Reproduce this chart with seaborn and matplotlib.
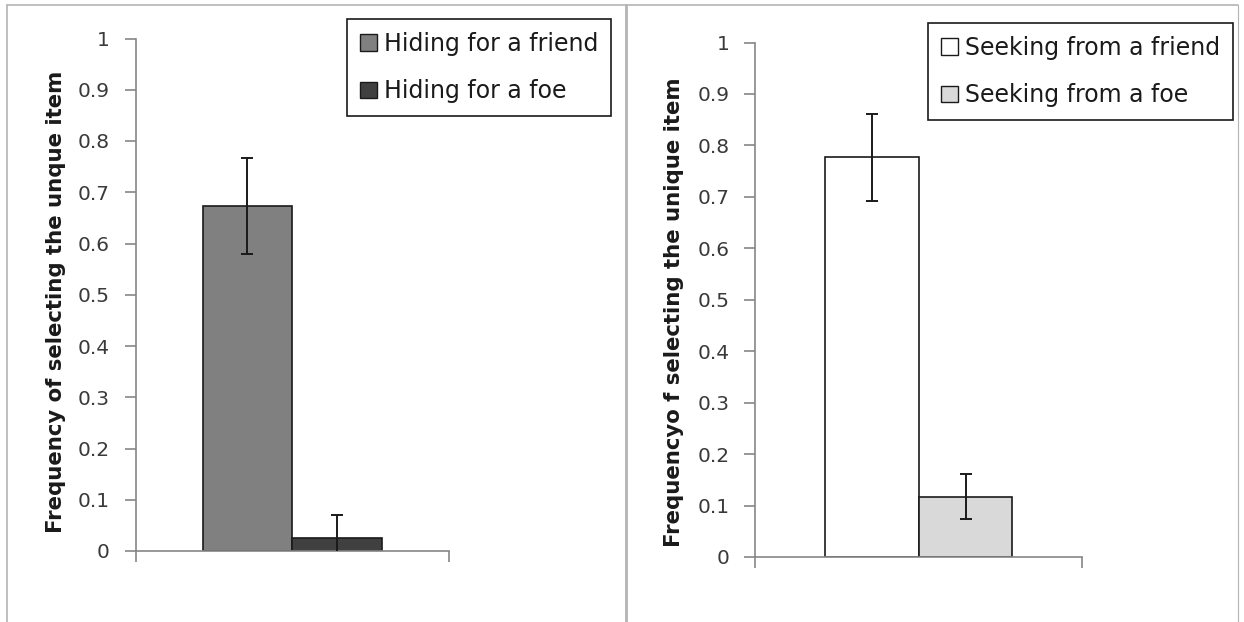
import matplotlib
matplotlib.use("Agg")
import matplotlib.pyplot as plt
from matplotlib.patches import Patch
from matplotlib.lines import Line2D
import seaborn as sns
import pandas as pd
import numpy as np

# Hiding condition
hide_labels = ["Hiding for a friend", "Hiding for a foe"]
hide_means = [0.673, 0.025]
hide_errs = [0.093, 0.046]
hide_colors = ["#808080", "#404040"]

# Seeking condition
seek_labels = ["Seeking from a friend", "Seeking from a foe"]
seek_means = [0.777, 0.117]
seek_errs = [0.085, 0.044]
seek_colors = ["#ffffff", "#d9d9d9"]

yticks = [0, 0.1, 0.2, 0.3, 0.4, 0.5, 0.6, 0.7, 0.8, 0.9, 1]
ytick_labels = ["0", "0.1", "0.2", "0.3", "0.4", "0.5", "0.6", "0.7", "0.8", "0.9", "1"]
ylabel_left = "Frequency of selecting the unque item"
ylabel_right = "Frequencyo f selecting the unique item"

sns.set_theme(style="white")
plt.rcParams["font.family"] = ["DejaVu Sans"]

W, H = 1244, 622
fig = plt.figure(figsize=(W / 100, H / 100), dpi=100)
fig.patch.set_facecolor("white")

AXIS_GREY = "#868686"
TEXT_GREY = "#3a3a3a"
INK = "#1a1a1a"


def px_axes(x0, x1, y_top, y_bot):
    return fig.add_axes([x0 / W, 1 - y_bot / H, (x1 - x0) / W, (y_bot - y_top) / H])


def draw_panel(ax, labels, means, errs, colors, ylabel, label_xy, legend_box):
    df = pd.DataFrame({"cond": labels, "value": means})
    sns.barplot(data=df, x="cond", y="value", hue="cond", order=labels,
                hue_order=labels, palette=colors, width=1.0, dodge=False,
                edgecolor=INK, linewidth=1.2, legend=False, ax=ax)
    ax.errorbar(np.arange(len(labels)), means, yerr=errs, fmt="none",
                ecolor=INK, elinewidth=1.4, capsize=4.5, capthick=1.4,
                clip_on=True, zorder=5)
    ax.set_xlim(-1.25, 2.25)
    ax.set_ylim(0, 1)
    ax.set_yticks(yticks)
    ax.set_yticklabels(ytick_labels, fontsize=14.5, color=TEXT_GREY)
    ax.set_xticks([-1.25, 2.25])
    ax.set_xticklabels([])
    ax.set_xlabel("")
    ax.set_ylabel(ylabel, fontsize=15.3, fontweight="bold", color=INK)
    ax.yaxis.label.set_verticalalignment("center")
    ax.yaxis.set_label_coords(*label_xy)
    for side in ["top", "right"]:
        ax.spines[side].set_visible(False)
    for side in ["left", "bottom"]:
        ax.spines[side].set_color(AXIS_GREY)
        ax.spines[side].set_linewidth(1.2)
    ax.tick_params(axis="y", direction="out", length=8, width=1.2,
                   color=AXIS_GREY, left=True, pad=10.5)
    ax.tick_params(axis="x", direction="out", length=8, width=1.2,
                   color=AXIS_GREY, bottom=True)
    ax.set_facecolor("white")

    handles = [Patch(facecolor=c, edgecolor=INK, linewidth=1.0)
               for c in colors]
    x_right, y_top = legend_box
    leg = fig.legend(handles, labels, loc="upper right",
                     bbox_to_anchor=(x_right / W, 1 - y_top / H),
                     fontsize=17, frameon=True, fancybox=False,
                     edgecolor=INK, framealpha=1,
                     handlelength=0.72, handleheight=0.72, handletextpad=0.27,
                     labelspacing=1.0, borderpad=0.55, borderaxespad=0)
    leg.get_frame().set_linewidth(1.2)
    for t in leg.get_texts():
        t.set_color(INK)


ax1 = px_axes(135.5, 449, 38.5, 551)
draw_panel(ax1, hide_labels, hide_means, hide_errs, hide_colors,
           ylabel_left, (-0.2536, 0.487), (611, 18.6))

ax2 = px_axes(755.3, 1082.4, 42.5, 557)
draw_panel(ax2, seek_labels, seek_means, seek_errs, seek_colors,
           ylabel_right, (-0.2495, 0.476), (1232.8, 22.6))

# Chart-area borders around each panel
BORDER = "#b4b4b4"
for xs, ys, lw in [((7.5, 7.5), (5, H), 1.2),
                   ((7.5, 1238), (5, 5), 1.2),
                   ((625.8, 625.8), (5, H), 2.0),
                   ((1238, 1238), (5, H), 0.8)]:
    fig.add_artist(Line2D([x / W for x in xs], [1 - y / H for y in ys],
                          color=BORDER, linewidth=lw))

fig.savefig("out.png", dpi=100, facecolor="white")
